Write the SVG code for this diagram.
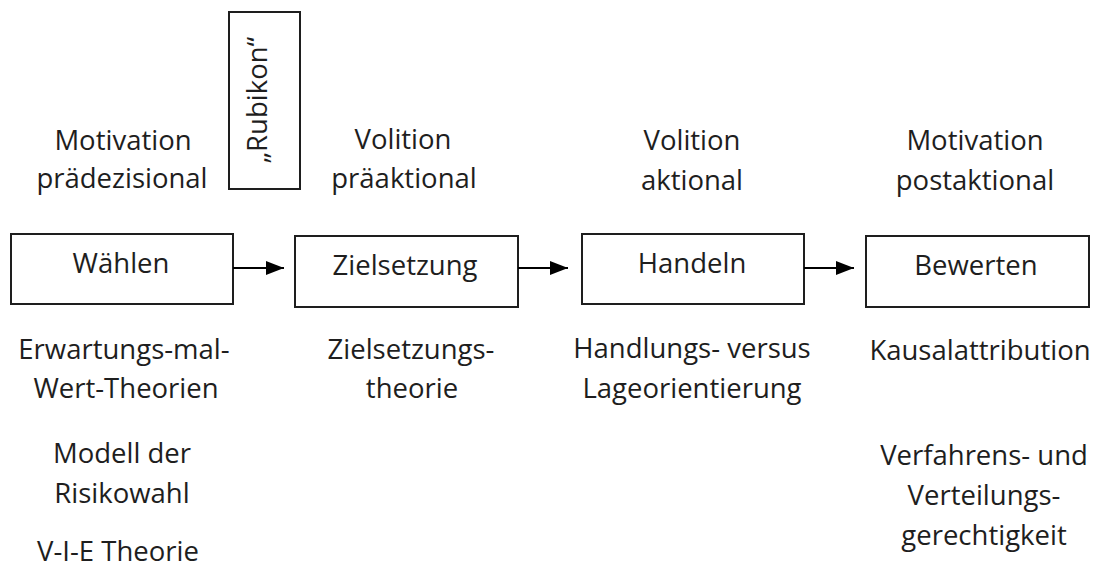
<svg xmlns="http://www.w3.org/2000/svg" width="1096" height="570" viewBox="0 0 1096 570">
<defs>
<style>
text{font-family:"Open Sans","Liberation Sans",sans-serif;font-size:27.5px;fill:#1e1e1e;text-anchor:middle}
.box{fill:#fff;stroke:#1e1e1e;stroke-width:2}
.conn{stroke:#000;stroke-width:2;fill:none}
</style>
<marker id="ah" markerUnits="userSpaceOnUse" markerWidth="18" markerHeight="15" refX="18" refY="7.5" orient="auto">
<path d="M0,0.5 L18,7.5 L0,14.5 Z" fill="#000"/>
</marker>
</defs>
<rect width="1096" height="570" fill="#fff"/>
<g id="rubikon">
<rect class="box" x="229" y="12" width="71" height="177"/>
<text transform="translate(267,100) rotate(-90)">„Rubikon“</text>
</g>
<g id="phase-labels">
<text x="123" y="150">Motivation</text>
<text x="122" y="188">prädezisional</text>
<text x="403" y="149">Volition</text>
<text x="404" y="188">präaktional</text>
<text x="692" y="150">Volition</text>
<text x="692" y="190">aktional</text>
<text x="975" y="150">Motivation</text>
<text x="975" y="190">postaktional</text>
</g>
<g id="waehlen">
<rect class="box" x="11" y="234" width="222" height="70"/>
<text x="121" y="273">Wählen</text>
</g>
<g id="zielsetzung">
<rect class="box" x="295" y="236" width="223" height="71"/>
<text x="405" y="275">Zielsetzung</text>
</g>
<g id="handeln">
<rect class="box" x="582" y="234" width="222" height="70"/>
<text x="692" y="273">Handeln</text>
</g>
<g id="bewerten">
<rect class="box" x="866" y="236" width="223" height="71"/>
<text x="976" y="275">Bewerten</text>
</g>
<g id="connectors">
<line class="conn" x1="233" y1="268" x2="284" y2="268" marker-end="url(#ah)"/>
<line class="conn" x1="518" y1="268" x2="568" y2="268" marker-end="url(#ah)"/>
<line class="conn" x1="804" y1="268" x2="854" y2="268" marker-end="url(#ah)"/>
</g>
<g id="theories">
<text x="124" y="359">Erwartungs-mal-</text>
<text x="126" y="398">Wert-Theorien</text>
<text x="122" y="463">Modell der</text>
<text x="122" y="503">Risikowahl</text>
<text x="118" y="561">V-I-E Theorie</text>
<text x="411" y="359">Zielsetzungs-</text>
<text x="412" y="398">theorie</text>
<text x="692" y="358">Handlungs- versus</text>
<text x="692" y="398">Lageorientierung</text>
<text x="980" y="360">Kausalattribution</text>
<text x="984" y="465">Verfahrens- und</text>
<text x="984" y="505">Verteilungs-</text>
<text x="984" y="545">gerechtigkeit</text>
</g>
</svg>
